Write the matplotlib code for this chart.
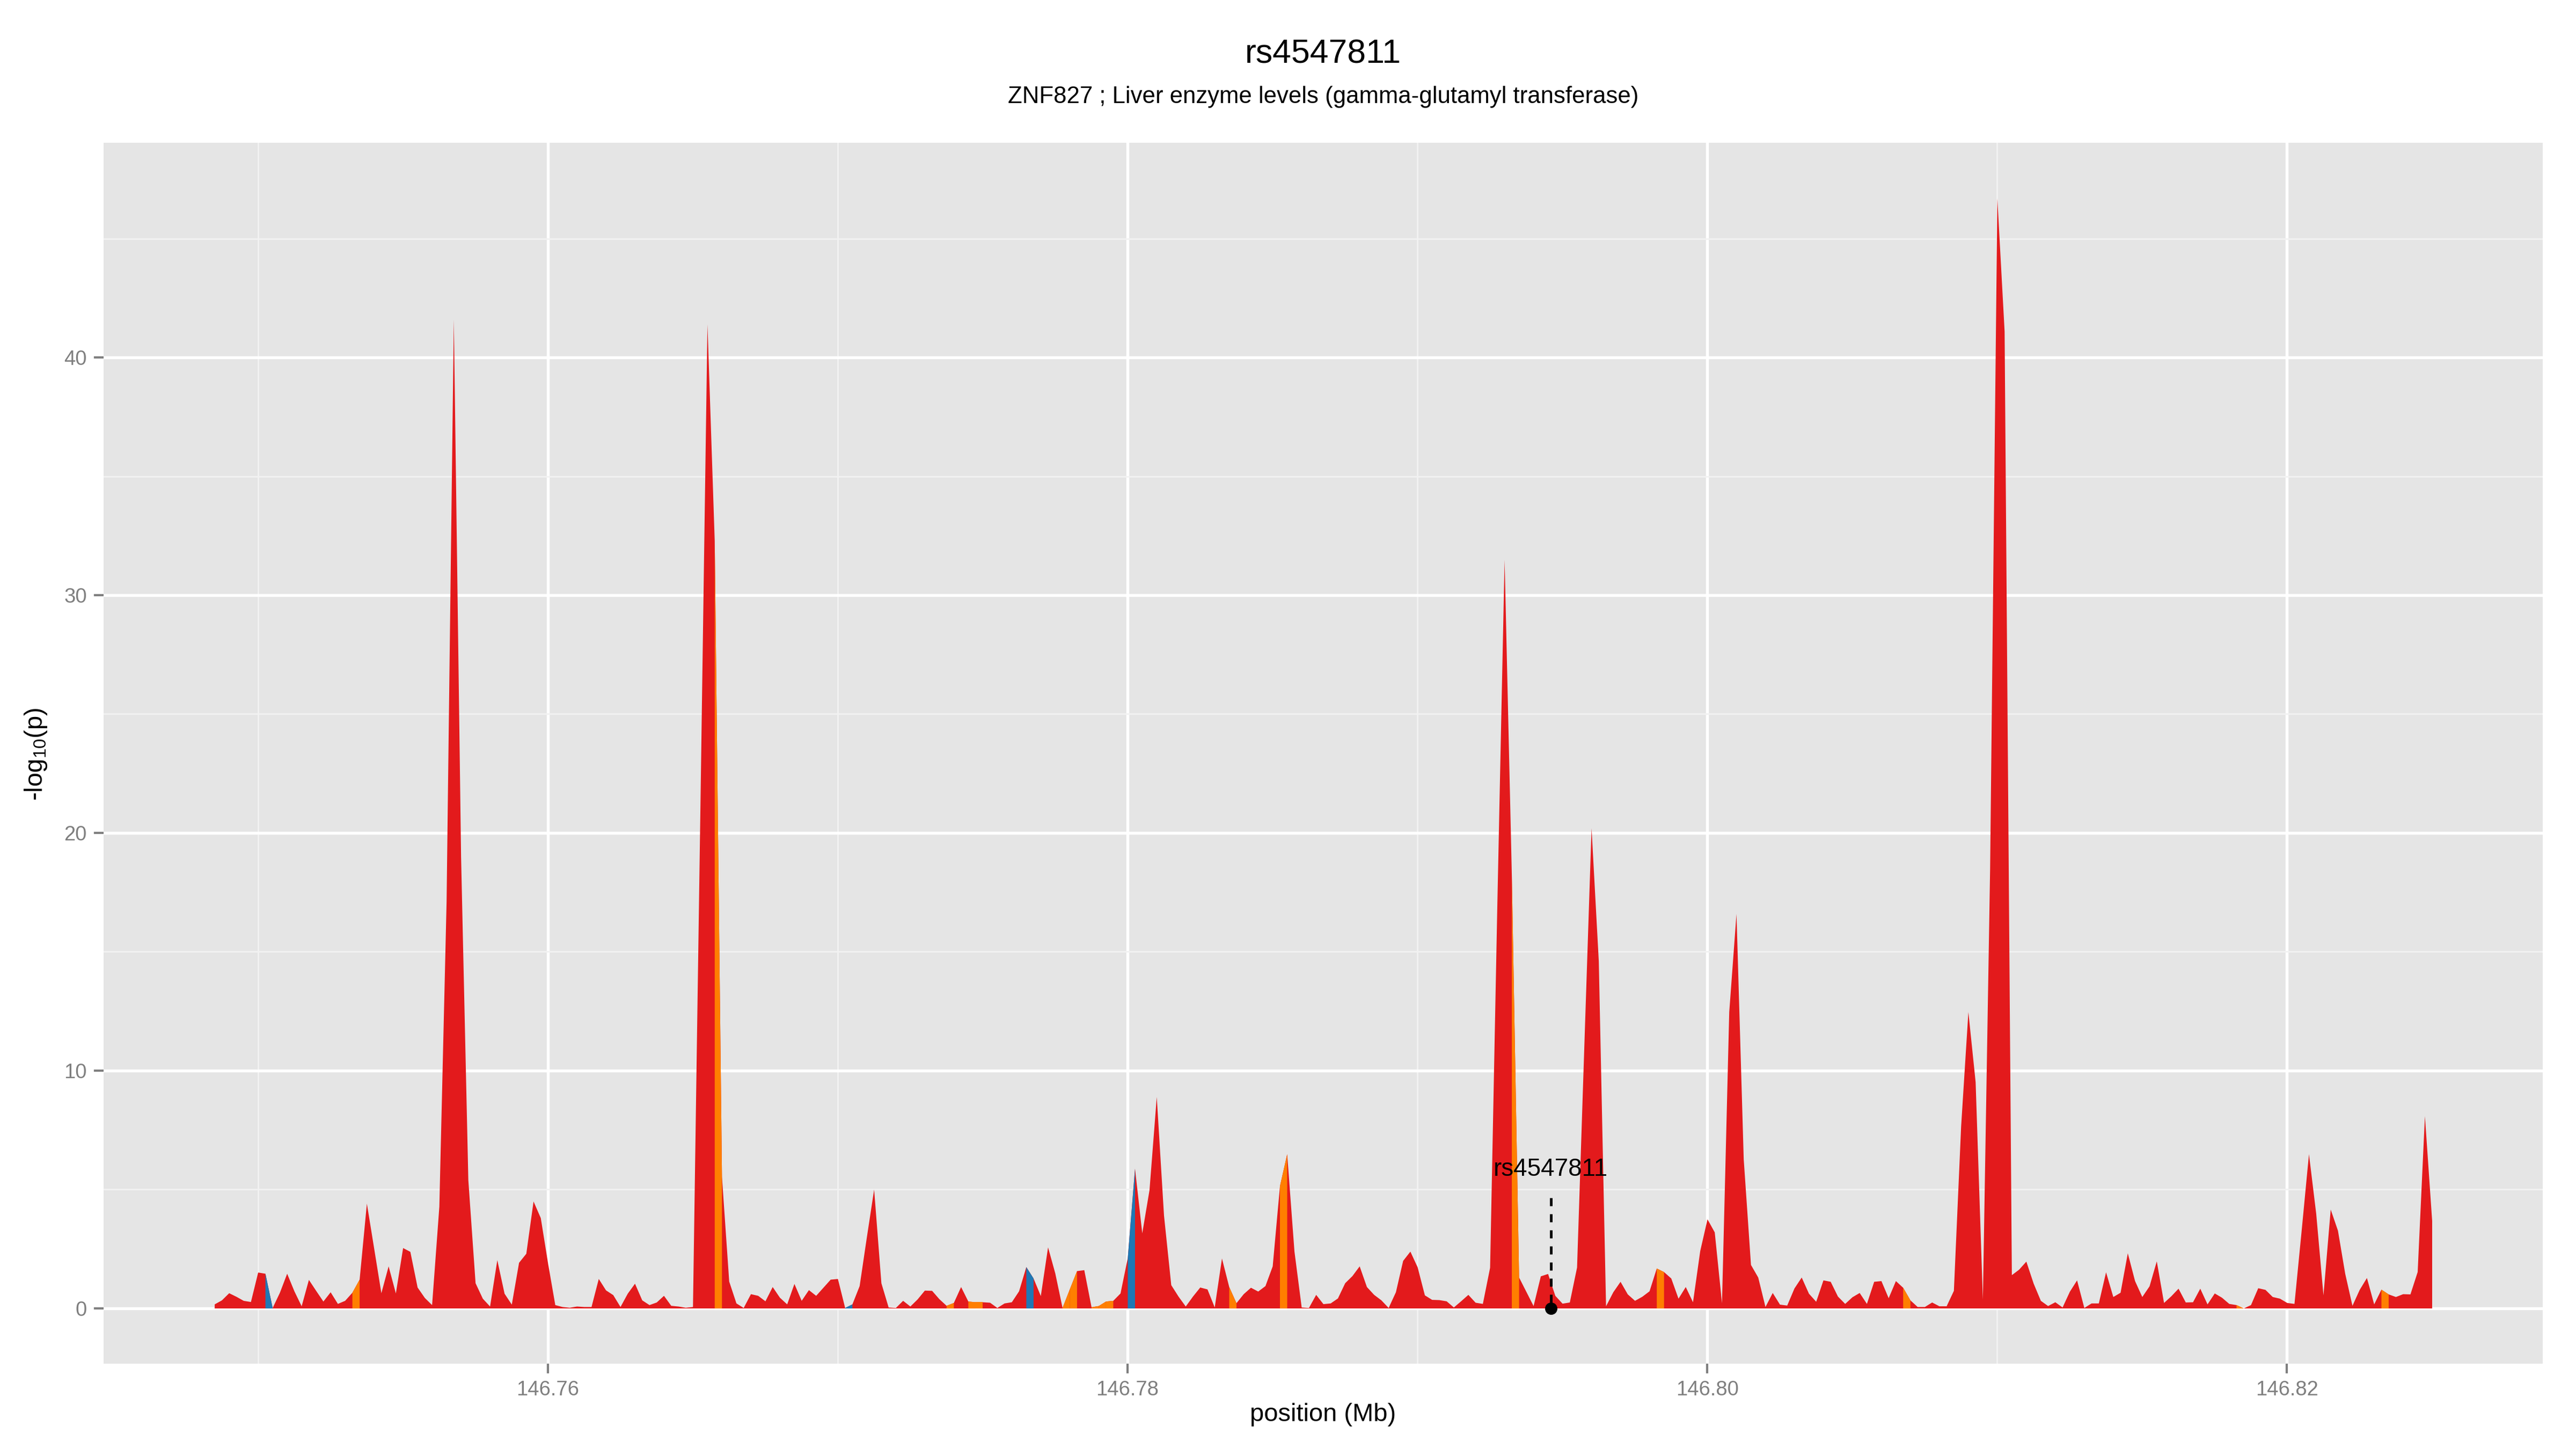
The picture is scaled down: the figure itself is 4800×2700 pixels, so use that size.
import numpy as np
import matplotlib
matplotlib.use("Agg")
import matplotlib.pyplot as plt
from matplotlib.ticker import FixedLocator

plt.rcParams["font.family"] = ["Liberation Sans", "DejaVu Sans"]
plt.rcParams["mathtext.fontset"] = "custom"
plt.rcParams["mathtext.rm"] = "Liberation Sans"
plt.rcParams["mathtext.it"] = "Liberation Sans:italic"
plt.rcParams["mathtext.default"] = "rm"

# SNPs sit on a 250 bp grid starting at 146.7485 Mb
pos_start_mb = 146.7485
pos_step_mb = 0.00025

logp = [
    0.17, 0.34, 0.64, 0.49, 0.32, 0.27, 1.51, 1.46, 0.02, 0.66,
    1.46, 0.72, 0.09, 1.20, 0.74, 0.29, 0.68, 0.19, 0.32, 0.66,
    1.21, 4.41, 2.53, 0.64, 1.77, 0.63, 2.54, 2.38, 0.88, 0.44,
    0.14, 4.28, 17.1, 41.6, 19.0, 5.40, 1.06, 0.41, 0.08, 2.03,
    0.62, 0.16, 1.92, 2.30, 4.50, 3.80, 1.90, 0.14, 0.06, 0.03,
    0.08, 0.06, 0.06, 1.24, 0.76, 0.56, 0.06, 0.62, 1.04, 0.34,
    0.14, 0.25, 0.53, 0.11, 0.08, 0.03, 0.06, 20.5, 41.4, 32.3,
    5.54, 1.13, 0.21, 0.02, 0.60, 0.53, 0.30, 0.90, 0.45, 0.17,
    1.03, 0.32, 0.77, 0.53, 0.87, 1.21, 1.24, 0.02, 0.17, 0.94,
    3.00, 5.00, 1.06, 0.04, 0.02, 0.32, 0.08, 0.38, 0.75, 0.74,
    0.39, 0.11, 0.23, 0.90, 0.29, 0.26, 0.26, 0.24, 0.02, 0.21,
    0.26, 0.72, 1.74, 1.26, 0.52, 2.57, 1.47, 0.02, 0.80, 1.57,
    1.61, 0.05, 0.10, 0.29, 0.32, 0.63, 2.12, 5.88, 3.16, 4.98,
    8.90, 3.91, 0.98, 0.50, 0.08, 0.50, 0.88, 0.80, 0.04, 2.10,
    0.90, 0.22, 0.60, 0.87, 0.71, 0.94, 1.77, 5.14, 6.49, 2.40,
    0.04, 0.02, 0.57, 0.18, 0.21, 0.42, 1.06, 1.36, 1.77, 0.90,
    0.57, 0.34, 0.02, 0.68, 2.00, 2.39, 1.73, 0.55, 0.36, 0.35,
    0.30, 0.04, 0.30, 0.57, 0.24, 0.19, 1.71, 17.0, 31.5, 18.2,
    1.30, 0.70, 0.10, 1.35, 1.45, 0.53, 0.20, 0.25, 1.72, 11.0,
    20.2, 14.6, 0.09, 0.68, 1.12, 0.59, 0.32, 0.49, 0.72, 1.68,
    1.53, 1.26, 0.41, 0.90, 0.26, 2.42, 3.75, 3.20, 0.22, 12.47,
    16.6, 6.27, 1.83, 1.30, 0.06, 0.65, 0.16, 0.12, 0.84, 1.30,
    0.62, 0.28, 1.18, 1.12, 0.50, 0.19, 0.47, 0.65, 0.19, 1.12,
    1.15, 0.43, 1.15, 0.87, 0.34, 0.06, 0.06, 0.25, 0.09, 0.09,
    0.74, 7.66, 12.47, 9.52, 0.37, 18.5, 46.7, 41.1, 1.40, 1.63,
    1.97, 1.05, 0.32, 0.10, 0.26, 0.04, 0.70, 1.18, 0.02, 0.21,
    0.21, 1.52, 0.48, 0.66, 2.32, 1.15, 0.48, 0.93, 1.98, 0.23,
    0.51, 0.83, 0.25, 0.26, 0.83, 0.17, 0.63, 0.45, 0.19, 0.14,
    0.00, 0.14, 0.85, 0.78, 0.48, 0.41, 0.23, 0.19, 3.30, 6.49,
    3.98, 0.55, 4.16, 3.27, 1.46, 0.11, 0.78, 1.28, 0.17, 0.79,
    0.59, 0.48, 0.60, 0.59, 1.53, 8.09, 3.68,
]

# segments (starting SNP index) drawn in another colour than red
blue_segments = [7, 87, 112, 126]
orange_segments = [19, 69, 101, 104, 105, 117, 118, 121, 122, 123,
                   140, 147, 179, 199, 233, 279, 299]

snp_name = "rs4547811"
snp_pos_mb = 146.7946
snp_label_y = 5.84
snp_line_top = 4.65
subtitle = "ZNF827 ; Liver enzyme levels (gamma-glutamyl transferase)"

x_ticks = [146.76, 146.78, 146.80, 146.82]
x_minor = [146.75, 146.77, 146.79, 146.81]
y_ticks = [0, 10, 20, 30, 40]
y_minor = [5, 15, 25, 35, 45]

RED = "#E31A1C"
ORANGE = "#FF7F00"
BLUE = "#1F78B4"
GREY = "#7F7F7F"

pos = pos_start_mb + pos_step_mb * np.arange(len(logp))
y = np.array(logp)

fig = plt.figure(figsize=(16, 9), dpi=300)
ax = fig.add_axes([0.0402, 0.0589, 0.9469, 0.8426])
ax.set_facecolor("#E5E5E5")

ax.fill_between(pos, 0, y, color=RED, linewidth=0, zorder=2)
for seg_list, col in ((orange_segments, ORANGE), (blue_segments, BLUE)):
    for i in seg_list:
        ax.fill_between(pos[i:i + 2], 0, y[i:i + 2], color=col, linewidth=0, zorder=3)

# highlighted snp
ax.plot([snp_pos_mb, snp_pos_mb], [snp_line_top, 0], color="black", lw=1.2,
        ls=(0, (3, 3)), zorder=4)
ax.plot([snp_pos_mb], [0], "o", color="black", ms=4.5, zorder=5)
ax.text(snp_pos_mb, snp_label_y, snp_name, ha="center", va="center", fontsize=11, zorder=5)

# ggplot style expansion
xpad = 0.05 * (pos[-1] - pos[0])
ax.set_xlim(pos[0] - xpad, pos[-1] + xpad)
ypad = 0.05 * y.max()
ax.set_ylim(-ypad, y.max() + ypad)

ax.xaxis.set_major_locator(FixedLocator(x_ticks))
ax.xaxis.set_minor_locator(FixedLocator(x_minor))
ax.yaxis.set_major_locator(FixedLocator(y_ticks))
ax.yaxis.set_minor_locator(FixedLocator(y_minor))
ax.set_xticklabels([f"{t:.2f}" for t in x_ticks])
ax.set_yticklabels([str(t) for t in y_ticks])

ax.set_axisbelow(True)
ax.grid(which="major", color="white", lw=1.3)
ax.grid(which="minor", color="#F2F2F2", lw=0.65)
for s in ax.spines.values():
    s.set_visible(False)
ax.tick_params(which="major", length=4.25, width=1.0, color=GREY,
               labelcolor=GREY, labelsize=9.2, pad=3.2)
ax.tick_params(which="minor", length=0)

fig.text(0.5136, 0.9626, snp_name, ha="center", va="center", fontsize=15)
fig.text(0.5136, 0.933, subtitle, ha="center", va="center", fontsize=10.5)
fig.text(0.5136, 0.0237, "position (Mb)", ha="center", va="center", fontsize=11.3)
fig.text(0.014, 0.4796, "-log$_{10}$(p)", ha="center", va="center",
         rotation=90, fontsize=11.3)

fig.savefig("out.png", dpi=300)
